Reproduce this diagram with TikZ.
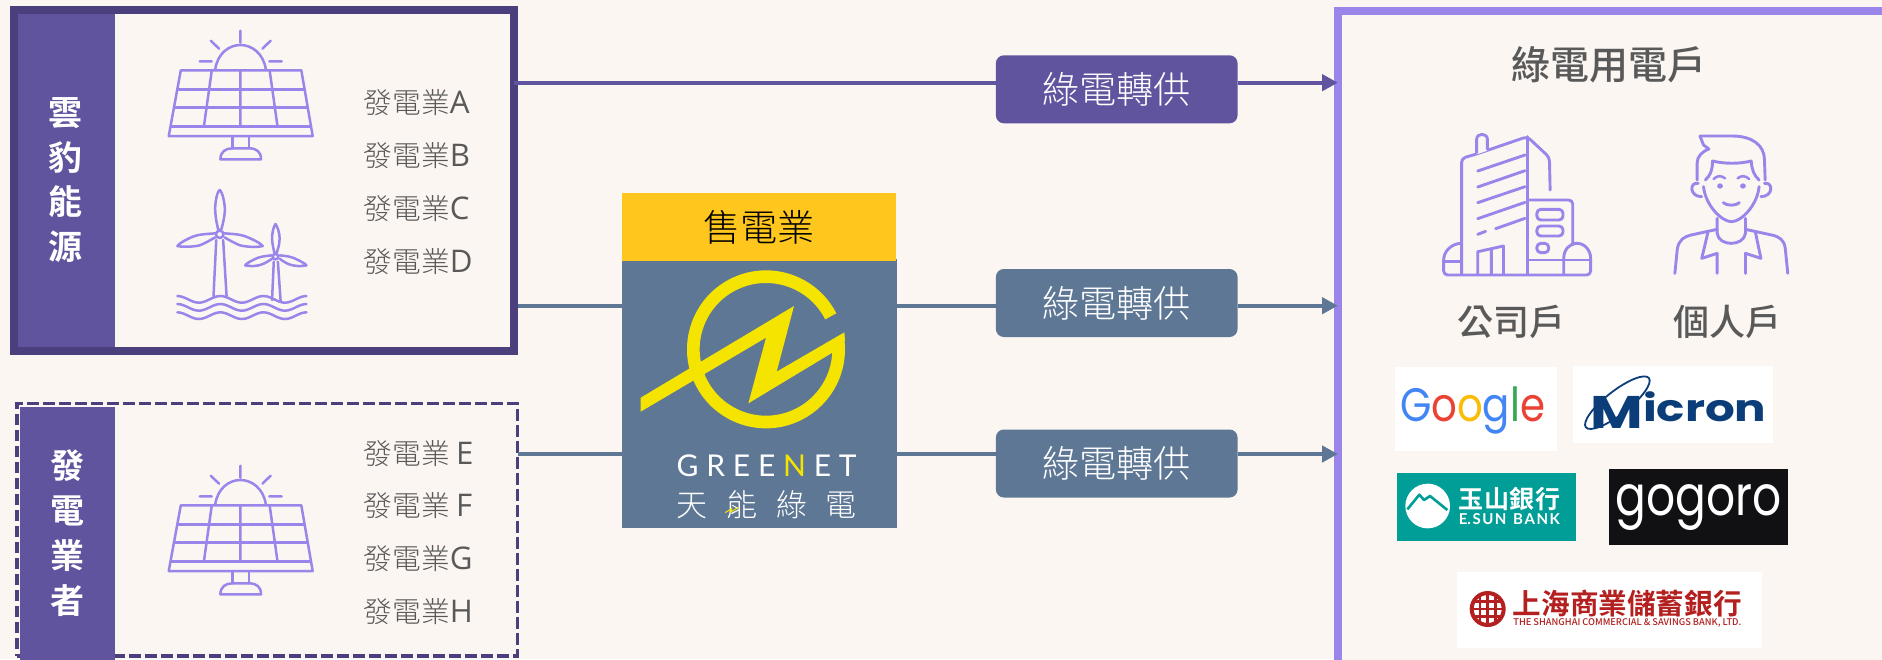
\documentclass[tikz,border=0pt]{standalone}
\usepackage{fontspec}
\usetikzlibrary{arrows.meta,calc}
\setmainfont{Noto Sans CJK TC}
\newfontfamily\cjkl{Noto Sans CJK TC Light}
\newfontfamily\cjkm{Noto Sans CJK TC Medium}
\newfontfamily\cjkb{Noto Sans CJK TC Bold}
\newfontfamily\pop{Poppins}
\newfontfamily\lat{Lato}
\newfontfamily\opn{Open Sans}
\newcommand{\ltr}[1]{{\opn\fontsize{15.6}{16}\selectfont #1}}
\definecolor{bgc}{HTML}{FBF6F2}
\definecolor{darkp}{HTML}{4B3F7D}
\definecolor{midp}{HTML}{60549F}
\definecolor{iconc}{HTML}{9A86EA}
\definecolor{slate}{HTML}{5E7795}
\definecolor{amber}{HTML}{FFC61E}
\definecolor{logoy}{HTML}{F5E400}
\definecolor{txt}{HTML}{595959}
\definecolor{gblue}{HTML}{4285F4}
\definecolor{gred}{HTML}{EA4335}
\definecolor{gyel}{HTML}{FBBC05}
\definecolor{ggrn}{HTML}{34A853}
\definecolor{micb}{HTML}{0B3D78}
\definecolor{teal}{HTML}{009E96}
\definecolor{blk}{HTML}{111113}
\definecolor{shred}{HTML}{B3201F}
\tikzset{
  box/.style={anchor=north west,inner sep=0pt,outer sep=0pt},
  genlabel/.style={anchor=west,inner sep=0pt,text=txt,font=\cjkl\fontsize{14.35}{16}\selectfont},
  striptext/.style={inner sep=0pt,text=white,align=center,font=\cjkb\fontsize{17}{22.4}\selectfont},
  pill/.style={inner sep=0pt,outer sep=0pt,rounded corners=4pt,minimum width=120.85pt,minimum height=34pt,text=white,font=\cjkl\fontsize{18.6}{20}\selectfont},
  wire/.style={line width=2pt},
  arrowed/.style={-{Triangle[length=7.8pt,width=8pt]}},
  iconline/.style={draw=iconc,line width=1.25pt,line join=round,line cap=round},
  iconthick/.style={draw=iconc,line width=1.45pt,line join=round,line cap=round},
  usertxt/.style={inner sep=0pt,text=txt,font=\cjkm\fontsize{18}{20}\selectfont},
  logobox/.style={box,fill=white},
  zoomA/.style={x=0.17218pt,y=-0.16667pt},
  zoomB/.style={x=0.17921pt,y=-0.16667pt},
  zoomC/.style={x=0.16667pt,y=-0.16667pt},
}
\newcommand{\solaricon}{%
  \draw[iconline] (625,208) .. controls (632,160) and (665,135) .. (698,135) .. controls (731,135) and (765,160) .. (772,208);
  \draw[iconline] (525,211) -- (875,211) -- (908,408) -- (490,408) -- cycle;
  \draw[iconline] (517,268) -- (884,268) (507,322) -- (893,322) (497,380) -- (902,380);
  \draw[iconline] (698,211) -- (698,380) (615,211) -- (592,380) (783,211) -- (806,380);
  \draw[iconline] (675,408) -- (675,445) (723,408) -- (723,445);
  \draw[iconline] (640,478) .. controls (640,455) and (655,445) .. (675,445) -- (723,445) .. controls (745,445) and (758,455) .. (758,478) -- cycle;
  \draw[iconline] (698,92) -- (698,128) (612,122) -- (636,146) (786,122) -- (762,146) (580,184) -- (615,184) (782,184) -- (818,184);
}
\begin{document}
\begin{tikzpicture}[x=0.5pt,y=-0.5pt]
\useasboundingbox (0,0) rectangle (1882,659);
\clip (0,0) rectangle (1882,659);
\fill[bgc] (0,0) rectangle (1882,659);

% generators
\node[box,fill=bgc,draw=darkp,line width=4pt,minimum width=250pt,minimum height=170.5pt] (gen1) at (14,9.5) {};
\node[box,fill=midp,minimum width=48.5pt,minimum height=166.5pt] (stripA) at (18,13.5) {};
\node[striptext] (nameA) at (65.4,180) {雲\\豹\\能\\源};
\node[box,draw=darkp,line width=1.8pt,dash pattern=on 5.8pt off 2.2pt,minimum width=250.2pt,minimum height=126.4pt] (gen2) at (17.2,403.3) {};
\node[box,fill=midp,minimum width=47.7pt,minimum height=126.5pt] (stripB) at (19.6,406.7) {};
\node[striptext] (nameB) at (67,533) {發\\電\\業\\者};

\node[genlabel] (la) at (363.3,103) {發電業\ltr{A}};
\node[genlabel] (lb) at (363.3,156) {發電業\ltr{B}};
\node[genlabel] (lc) at (363.3,209) {發電業\ltr{C}};
\node[genlabel] (ld) at (363.3,262) {發電業\ltr{D}};
\node[genlabel] (le) at (363.3,454) {發電業 \ltr{E}};
\node[genlabel] (lf) at (363.3,506) {發電業 \ltr{F}};
\node[genlabel] (lg) at (363.3,559) {發電業\ltr{G}};
\node[genlabel] (lh) at (363.3,612) {發電業\ltr{H}};

\begin{scope}[zoomA]
\solaricon
\end{scope}
\begin{scope}[yshift=-217.5pt,zoomA]
\solaricon
\end{scope}

% wind turbines and waves
\begin{scope}[zoomA]
\draw[iconline] (628,720) -- (620,888) (648,720) -- (658,888);
\draw[iconline] (638,570) .. controls (630,575) and (624,610) .. (625,630) .. controls (626,660) and (632,680) .. (634,690) -- (642,690) .. controls (645,680) and (652,655) .. (653,630) .. controls (653,610) and (646,575) .. (638,570) -- cycle;
\draw[iconline] (625,700) .. controls (600,702) and (575,703) .. (560,710) .. controls (545,716) and (520,730) .. (515,738) .. controls (530,742) and (565,740) .. (580,736) .. controls (595,730) and (615,718) .. (625,712);
\draw[iconline] (652,700) .. controls (678,702) and (700,703) .. (715,710) .. controls (730,716) and (758,730) .. (763,738) .. controls (745,743) and (712,740) .. (697,736) .. controls (682,730) and (665,720) .. (652,712);
\draw[iconline] (638,703) circle [radius=11];
\draw[iconline] (790,900) -- (795,785) (815,905) -- (807,785);
\draw[iconline] (800,672) .. controls (794,680) and (790,700) .. (790,715) .. controls (791,735) and (795,750) .. (797,760) -- (803,760) .. controls (806,750) and (812,735) .. (812,715) .. controls (812,700) and (806,680) .. (800,672) -- cycle;
\draw[iconline] (790,766) .. controls (770,768) and (755,770) .. (745,775) .. controls (732,781) and (715,790) .. (712,796) .. controls (725,800) and (748,798) .. (758,794) .. controls (770,790) and (782,782) .. (790,776);
\draw[iconline] (812,766) .. controls (832,768) and (845,770) .. (855,775) .. controls (868,781) and (886,790) .. (890,796) .. controls (877,800) and (853,798) .. (843,794) .. controls (830,790) and (820,782) .. (812,776);
\draw[iconline] (800,770) circle [radius=8];
\foreach \wy in {898,922,947}
  \draw[iconline] plot[domain=515:890,samples=50,smooth] (\x,{\wy-10*cos((\x-640)*2.88)});
\end{scope}

% seller
\node[box,fill=slate,minimum width=137.5pt,minimum height=134.5pt] (retail) at (622,259) {};
\node[box,fill=amber,minimum width=137pt,minimum height=34pt,text=black,font=\cjkl\fontsize{18.6}{20}\selectfont] (tag) at (622,193) {售電業};
\begin{scope}[shift={(600,170)},zoomC]
\draw[logoy,line width=6.33pt] ({498+218*cos(27)},{538-218*sin(27)}) arc[start angle=-27,end angle=-368,radius=218];
\fill[logoy] (122,683) -- (582,408) -- (530,605) -- (733,487) -- (735,512) -- (697,548) -- (445,700) -- (498,503) -- (122,725) -- cycle;
\node[inner sep=0pt,text=white,font=\lat\fontsize{15}{16}\selectfont] (gn) at (500,887) {\makebox[90pt][s]{G\hfill R\hfill E\hfill E\hfill\textcolor{logoy}{N}\hfill E\hfill T}};
\node[inner sep=0pt,text=white,font=\cjkl\fontsize{15.5}{17}\selectfont] (tn) at (500,1003) {\makebox[90pt][s]{天\hfill 能\hfill 綠\hfill 電}};
\draw[logoy,line width=0.5pt] (375,1028) -- (395,1016) -- (392,1026) -- (415,1012);
\end{scope}

% users
\node[box,fill=bgc,draw=iconc,line width=4pt,minimum width=300pt,minimum height=330pt] (user) at (1337.8,11.3) {};
\node[usertxt,font=\cjkm\fontsize{19.5}{21}\selectfont] (title) at (1609,64.3) {綠電用電戶};
\node[usertxt] (corp) at (1511.8,322.3) {公司戶};
\node[usertxt] (pers) at (1727,322.3) {個人戶};

% building
\begin{scope}[shift={(1320,0)},zoomB]
\draw[iconthick,rounded corners=2pt] (395,822) -- (395,475) -- (437,462) -- (578,410) -- (640,472) -- (642,570);
\fill[bgc] (437,463) -- (467,452) -- (467,400) -- (437,400) -- cycle;
\draw[iconthick] (437,458) -- (437,418) .. controls (437,398) and (467,398) .. (467,418) -- (467,448);
\draw[iconthick] (578,410) -- (578,822);
\draw[iconthick] (440,513) -- (572,465) (440,561) -- (572,512) (440,608) -- (572,560) (440,656) -- (572,607) (440,703) -- (462,694) (490,686) -- (572,655);
\draw[iconthick,rounded corners=2pt] (578,600) -- (705,600) -- (705,735);
\draw[iconthick,rounded corners=2pt] (605,628) rectangle (678,660) (605,678) rectangle (678,708) (605,730) rectangle (638,758);
\draw[iconthick,rounded corners=2pt] (345,780) -- (345,825) -- (755,825) -- (755,775);
\draw[iconthick] (345,780) .. controls (345,755) and (365,732) .. (392,730);
\draw[iconthick] (345,785) -- (395,785) (580,780) -- (755,780);
\draw[iconthick] (680,822) -- (680,775) .. controls (680,750) and (695,730) .. (717,730) .. controls (738,730) and (755,750) .. (755,775);
\draw[iconthick] (440,822) -- (440,755) -- (512,738) -- (512,822) (478,748) -- (478,822);
% person
\draw[iconthick] (1060,408) -- (1150,408) .. controls (1205,408) and (1240,435) .. (1240,480) -- (1242,540);
\draw[iconthick] (1060,408) -- (1070,435) -- (1085,447) .. controls (1065,455) and (1052,470) .. (1052,490) -- (1052,540);
\draw[iconthick] (1075,540) .. controls (1090,525) and (1095,510) .. (1095,483) .. controls (1130,492) and (1170,492) .. (1203,483) .. controls (1205,510) and (1210,525) .. (1225,540);
\draw[iconthick] (1070,560) .. controls (1075,615) and (1120,665) .. (1148,665) .. controls (1176,665) and (1220,615) .. (1225,560);
\draw[iconthick] (1055,550) .. controls (1030,545) and (1030,590) .. (1065,590);
\draw[iconthick] (1240,550) .. controls (1265,545) and (1265,590) .. (1230,590);
\draw[iconline] (1098,537) .. controls (1108,526) and (1120,526) .. (1130,535) (1165,535) .. controls (1175,526) and (1187,526) .. (1197,537);
\fill[iconc] (1116,558) circle [radius=8] (1180,558) circle [radius=8];
\draw[iconthick] (1125,608) .. controls (1135,618) and (1160,618) .. (1170,608);
\draw[iconthick] (1108,655) -- (1108,700) .. controls (1112,740) and (1182,740) .. (1187,700) -- (1187,655);
\draw[iconthick] (990,820) -- (997,745) .. controls (1002,720) and (1015,710) .. (1035,705) -- (1108,688);
\draw[iconthick] (1187,688) -- (1260,705) .. controls (1282,710) and (1295,720) .. (1298,745) -- (1305,820);
\draw[iconthick] (1082,698) -- (1065,775) -- (1108,760) -- (1108,820);
\draw[iconthick] (1215,698) -- (1230,775) -- (1187,760) -- (1187,820);
\end{scope}

% logos
\node[logobox,minimum width=80.85pt,minimum height=41.85pt] (google) at (1395,367) {};
\node[inner sep=0pt,font=\pop\fontsize{26}{28}\selectfont] (gt) at (1472.5,410.3) {\resizebox*{72.5pt}{23.7pt}{\textcolor{gblue}{G}\textcolor{gred}{o}\textcolor{gyel}{o}\textcolor{gblue}{g}\textcolor{ggrn}{l}\textcolor{gred}{e}}};
\node[logobox,minimum width=99.7pt,minimum height=38.35pt] (micron) at (1573.3,366) {};
\begin{scope}[shift={(1360,350)},zoomC]
\node[inner sep=0pt,text=micb,font=\pop\bfseries] (mt) at (955,180) {\resizebox*{88pt}{18.3pt}{\raisebox{-4pt}{\fontsize{27}{30}\selectfont M}\fontsize{22}{22}\selectfont icron}};
\draw[micb,line width=0.9pt,rotate around={38:(772,158)}] (772,158) ellipse [x radius=120,y radius=35];
\end{scope}
\node[box,fill=teal,minimum width=89.5pt,minimum height=33.85pt] (esun) at (1397,473) {};
\begin{scope}[shift={(1360,350)},zoomC]
\fill[white] (203,468) circle [radius=67];
\draw[teal,line width=1.3pt,line join=round] (142,478) -- (178,434) -- (192,450) -- (210,438) -- (262,480);
\node[inner sep=0pt,text=white,font=\cjkb\fontsize{12.5}{14}\selectfont] (et) at (448,447) {\makebox[51pt][s]{玉\hfill 山\hfill 銀\hfill 行}};
\node[inner sep=0pt,text=white,font=\lat\bfseries\fontsize{7.5}{8}\selectfont] (ee) at (448,508) {\makebox[50.5pt][s]{E.\hfill S\hfill U\hfill N\hfill\ \hfill B\hfill A\hfill N\hfill K}};
\end{scope}
\node[box,fill=blk,minimum width=89.5pt,minimum height=38pt] (gogoro) at (1609,469) {};
\node[inner sep=0pt,text=white,font=\pop\fontsize{26}{28}\selectfont] (gg) at (gogoro.center) {\resizebox*{83pt}{23pt}{gogoro}};
\node[logobox,minimum width=152.5pt,minimum height=37.85pt] (shbank) at (1457,572) {};
\begin{scope}[shift={(1360,350)},zoomC]
\draw[shred,line width=2pt] (383,777) circle [radius=48];
\draw[shred,line width=1.3pt] (360,735) -- (360,820) (383,730) -- (383,825) (406,735) -- (406,820) (340,755) -- (426,755) (340,777) -- (426,777) (340,800) -- (426,800);
\node[inner sep=0pt,text=shred,font=\cjkb\fontsize{14.3}{16}\selectfont] (st) at (802,760) {上海商業儲蓄銀行};
\node[inner sep=0pt,text=shred,font=\cjkm] (se) at (802,818) {\resizebox{114pt}{!}{THE SHANGHAI COMMERCIAL \& SAVINGS BANK, LTD.}};
\end{scope}

% transfer pills and connectors
\node[pill,fill=midp] (p1) at (1116.7,89.3) {綠電轉供};
\node[pill,fill=slate] (p2) at (1116.7,303) {綠電轉供};
\node[pill,fill=slate] (p3) at (1116.7,463.5) {綠電轉供};
\coordinate (ya) at (0,82.7);
\coordinate (yb) at (0,305.7);
\coordinate (yc) at (0,454);
\coordinate (s2) at ($(gen1.east |- yb)+(4,0)$);
\draw[wire,midp] (gen1.east |- ya) -- (p1.west |- ya);
\draw[wire,midp,arrowed] (p1.east |- ya) -- (user.west |- ya);
\draw[wire,slate] (s2) -- (retail.west |- yb);
\draw[wire,slate] (retail.east |- yb) -- (p2.west |- yb);
\draw[wire,slate,arrowed] (p2.east |- yb) -- (user.west |- yb);
\draw[wire,slate] (gen2.east |- yc) -- (retail.west |- yc);
\draw[wire,slate] (retail.east |- yc) -- (p3.west |- yc);
\draw[wire,slate,arrowed] (p3.east |- yc) -- (user.west |- yc);
\end{tikzpicture}
\end{document}
